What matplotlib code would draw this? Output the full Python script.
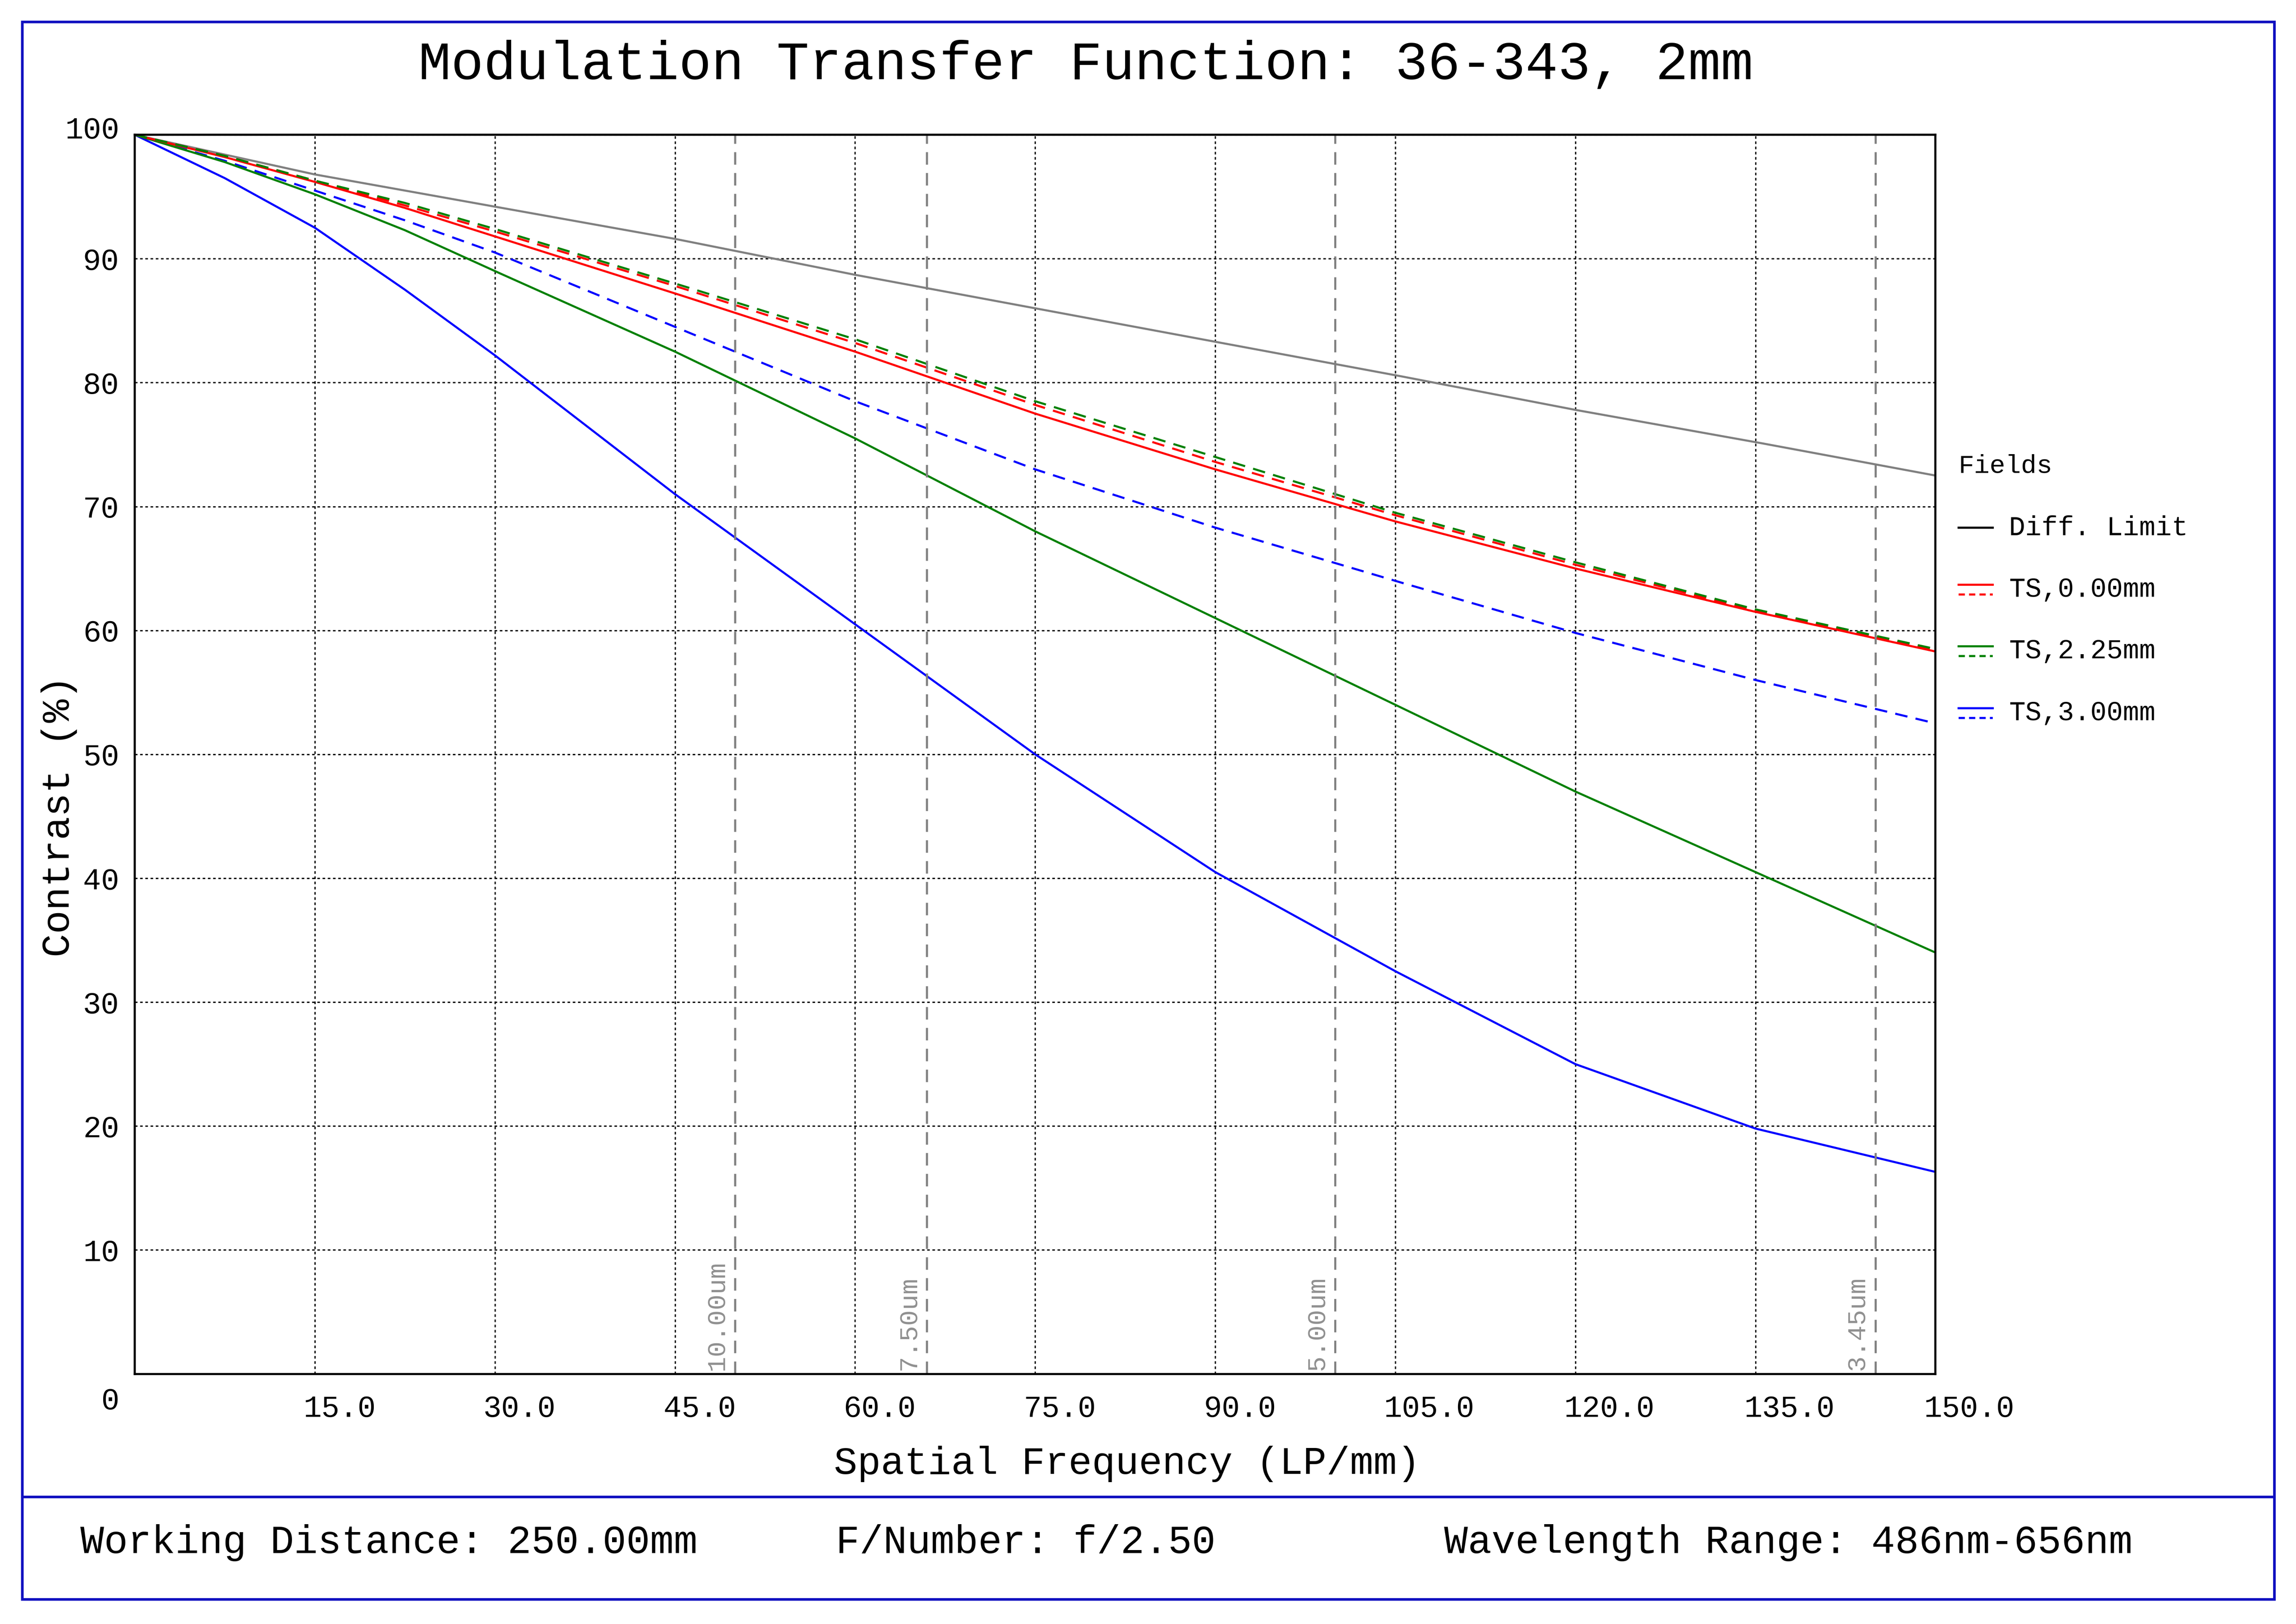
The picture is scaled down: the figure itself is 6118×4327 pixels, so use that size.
import numpy as np
import matplotlib.pyplot as plt
import matplotlib.transforms as mtransforms
from matplotlib.patches import Rectangle
from matplotlib.lines import Line2D

plt.rcParams['font.family'] = 'Liberation Mono'

freq = [0, 7.5, 15, 22.5, 30, 45, 60, 75, 90, 105, 120, 135, 150]
diff_limit = [100, 98.4, 96.8, 95.5, 94.2, 91.6, 88.7, 86.0, 83.3, 80.6, 77.8, 75.2, 72.5]
red_t = [100, 98.2, 96.2, 94.1, 91.8, 87.2, 82.5, 77.5, 73.0, 68.8, 65.0, 61.5, 58.3]
red_s = [100, 98.3, 96.3, 94.3, 92.2, 87.8, 83.2, 78.2, 73.6, 69.3, 65.3, 61.6, 58.4]
green_t = [100, 97.8, 95.2, 92.3, 89.0, 82.5, 75.5, 68.0, 61.0, 54.0, 47.0, 40.5, 34.0]
green_s = [100, 98.3, 96.3, 94.5, 92.4, 88.0, 83.5, 78.5, 74.0, 69.5, 65.5, 61.7, 58.5]
blue_t = [100, 96.5, 92.5, 87.5, 82.2, 71.0, 60.5, 50.0, 40.5, 32.5, 25.0, 19.8, 16.3]
blue_s = [100, 97.9, 95.5, 93.1, 90.5, 84.5, 78.5, 73.0, 68.3, 64.0, 59.8, 56.0, 52.5]
pixel_freq = [50, 66, 100, 145]
pixel_labels = ['10.00um', '7.50um', '5.00um', '3.45um']
legend_labels = ['Diff. Limit', 'TS,0.00mm', 'TS,2.25mm', 'TS,3.00mm']

fig = plt.figure(figsize=(61.18, 43.27), dpi=100)
ax = fig.add_axes([0.0587, 0.154, 0.7843, 0.763])
lw = 4

xs = np.linspace(0, 150, 301)
def smooth(y):
    return np.interp(xs, freq, y)

ax.plot(xs, smooth(diff_limit), color='#808080', lw=lw)
ax.plot(xs, smooth(blue_t), color='blue', lw=lw)
ax.plot(xs, smooth(blue_s), color='blue', lw=lw, ls=(0, (6, 4)))
ax.plot(xs, smooth(green_t), color='green', lw=lw)
ax.plot(xs, smooth(red_t), color='red', lw=lw)
ax.plot(xs, smooth(red_s), color='red', lw=lw, ls=(0, (6, 4)))
ax.plot(xs, smooth(green_s), color='green', lw=lw, ls=(0, (6, 4)))

for xf, lab in zip(pixel_freq, pixel_labels):
    ax.axvline(xf, color='#808080', lw=lw, ls=(0, (6, 4)))
    ax.text(xf - 0.5, 0.3, lab, rotation=90, color='#909090',
            fontsize=50, ha='right', va='bottom')

ax.set_xlim(0, 150)
ax.set_ylim(0, 100)
ax.set_xticks(np.arange(15, 151, 15))
ax.set_xticklabels([f'{v:.1f}' for v in np.arange(15, 151, 15)])
ax.set_yticks(np.arange(0, 101, 10))
ax.grid(True, color='black', ls=(0, (2, 2)), lw=2.5)
ax.tick_params(labelsize=58, length=0)
ax.tick_params(axis='x', pad=40)
ax.tick_params(axis='y', pad=30)
off = mtransforms.ScaledTranslation(-0.31, 0, fig.dpi_scale_trans)
for t in ax.get_xticklabels():
    t.set_ha('left')
    t.set_transform(t.get_transform() + off)
ylabs = ax.get_yticklabels()
ylabs[0].set_transform(ylabs[0].get_transform() +
                       mtransforms.ScaledTranslation(0, -0.65, fig.dpi_scale_trans))
ylabs[-1].set_transform(ylabs[-1].get_transform() +
                        mtransforms.ScaledTranslation(0, 0.2, fig.dpi_scale_trans))
for s in ax.spines.values():
    s.set_linewidth(4)
ax.set_xlabel('Spatial Frequency (LP/mm)', fontsize=75)
ax.xaxis.set_label_coords(0.551, -0.058)
ax.set_ylabel('Contrast (%)', fontsize=75)
ax.yaxis.set_label_coords(-0.032, 0.45)
fig.text(0.473, 0.96, 'Modulation Transfer Function: 36-343, 2mm',
         fontsize=104, ha='center', va='center')

# legend drawn by hand
fig.text(0.853, 0.713, 'Fields', fontsize=50, va='center')
leg_colors = ['black', 'red', 'green', 'blue']
ys = [0.675, 0.637, 0.599, 0.561]
for lab, c, y in zip(legend_labels, leg_colors, ys):
    if c == 'black':
        fig.add_artist(Line2D([0.853, 0.868], [y, y], color=c, lw=lw))
    else:
        fig.add_artist(Line2D([0.853, 0.868], [y + 0.003, y + 0.003], color=c, lw=lw))
        fig.add_artist(Line2D([0.853, 0.868], [y - 0.003, y - 0.003], color=c, lw=lw,
                              ls=(0, (3, 2))))
    fig.text(0.875, y, lab, fontsize=52, va='center')

# frames and footer
fig.add_artist(Rectangle((0.0096, 0.0153), 0.981, 0.9712, fill=False,
                         edgecolor='#1010c0', lw=5, transform=fig.transFigure))
fig.add_artist(Line2D([0.0096, 0.9906], [0.0784, 0.0784], color='#1010c0', lw=5))
fig.text(0.035, 0.050, 'Working Distance: 250.00mm', fontsize=76, va='center')
fig.text(0.364, 0.050, 'F/Number: f/2.50', fontsize=76, va='center')
fig.text(0.629, 0.050, 'Wavelength Range: 486nm-656nm', fontsize=76, va='center')

fig.savefig('out.png', dpi=100, facecolor='white')
